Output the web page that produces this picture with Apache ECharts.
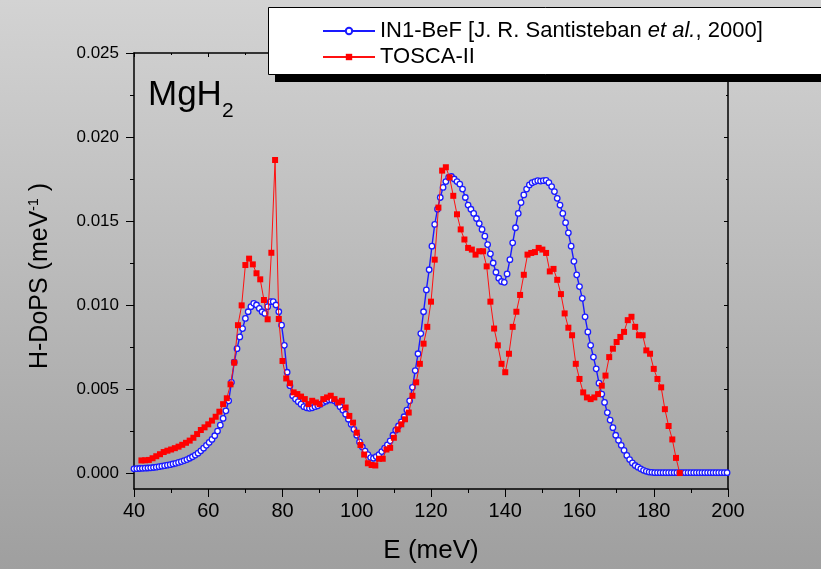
<!DOCTYPE html>
<html>
<head>
<meta charset="utf-8">
<script src="https://cdn.jsdelivr.net/npm/echarts@6/dist/echarts.min.js"></script>
<style>
  html, body { margin: 0; padding: 0; }
  #chart { width: 821px; height: 569px; }
</style>
</head>
<body>
<div id="chart"></div>
<script>
// IN1-BeF spectrum (energy in meV, H-DoPS in 1/meV)
const blueE = [
  40, 40.75, 41.5, 42.25, 43, 43.75, 44.5, 45.25, 46, 46.75, 47.5, 48.25,
  49, 49.75, 50.5, 51.25, 52, 52.75, 53.5, 54.25, 55, 55.75, 56.5, 57.25,
  58, 58.75, 59.5, 60.25, 61, 61.75, 62.5, 63.25, 64, 64.75, 65.5, 66.25,
  67, 67.75, 68.5, 69.25, 70, 70.75, 71.5, 72.25, 73, 73.75, 74.5, 75.25,
  76, 76.75, 77.5, 78.25, 79, 79.75, 80.5, 81.25, 82, 82.75, 83.5, 84.25,
  85, 85.75, 86.5, 87.25, 88, 88.75, 89.5, 90.25, 91, 91.75, 92.5, 93.25,
  94, 94.75, 95.5, 96.25, 97, 97.75, 98.5, 99.25, 100, 100.75, 101.5, 102.25,
  103, 103.75, 104.5, 105.25, 106, 106.75, 107.5, 108.25, 109, 109.75, 110.5, 111.25,
  112, 112.75, 113.5, 114.25, 115, 115.75, 116.5, 117.25, 118, 118.75, 119.5, 120.25,
  121, 121.75, 122.5, 123.25, 124, 124.75, 125.5, 126.25, 127, 127.75, 128.5, 129.25,
  130, 130.75, 131.5, 132.25, 133, 133.75, 134.5, 135.25, 136, 136.75, 137.5, 138.25,
  139, 139.75, 140.5, 141.25, 142, 142.75, 143.5, 144.25, 145, 145.75, 146.5, 147.25,
  148, 148.75, 149.5, 150.25, 151, 151.75, 152.5, 153.25, 154, 154.75, 155.5, 156.25,
  157, 157.75, 158.5, 159.25, 160, 160.75, 161.5, 162.25, 163, 163.75, 164.5, 165.25,
  166, 166.75, 167.5, 168.25, 169, 169.75, 170.5, 171.25, 172, 172.75, 173.5, 174.25,
  175, 175.75, 176.5, 177.25, 178, 178.75, 179.5, 180.25, 181, 181.75, 182.5, 183.25,
  184, 184.75, 185.5, 186.25, 187, 187.75, 188.5, 189.25, 190, 190.75, 191.5, 192.25,
  193, 193.75, 194.5, 195.25, 196, 196.75, 197.5, 198.25, 199, 199.75
];
const blueV = [
  0.00025, 0.00026, 0.00027, 0.00028, 0.00029, 0.00030, 0.00031, 0.00033, 0.00035, 0.00038, 0.00041, 0.00044,
  0.00047, 0.00050, 0.00054, 0.00058, 0.00063, 0.00068, 0.00074, 0.00080, 0.00088, 0.00097, 0.00107, 0.00118,
  0.00132, 0.00148, 0.00165, 0.00182, 0.00200, 0.00222, 0.00250, 0.00285, 0.00325, 0.00370, 0.00430, 0.00540,
  0.00660, 0.00740, 0.00810, 0.00860, 0.00920, 0.00960, 0.00990, 0.01010, 0.01000, 0.00980, 0.00960, 0.00950,
  0.00990, 0.01020, 0.01020, 0.01000, 0.00960, 0.00880, 0.00760, 0.00600, 0.00520, 0.00460, 0.00440, 0.00425,
  0.00410, 0.00395, 0.00388, 0.00385, 0.00388, 0.00395, 0.00400, 0.00410, 0.00420, 0.00428, 0.00435, 0.00435,
  0.00430, 0.00415, 0.00395, 0.00375, 0.00350, 0.00320, 0.00290, 0.00260, 0.00225, 0.00185, 0.00155, 0.00130,
  0.00110, 0.00092, 0.00088, 0.00098, 0.00110, 0.00128, 0.00148, 0.00168, 0.00192, 0.00225, 0.00255, 0.00280,
  0.00305, 0.00335, 0.00375, 0.00430, 0.00510, 0.00610, 0.00710, 0.00830, 0.00960, 0.01090, 0.01210, 0.01350,
  0.01480, 0.01570, 0.01640, 0.01700, 0.01735, 0.01760, 0.01765, 0.01750, 0.01735, 0.01720, 0.01690, 0.01640,
  0.01595, 0.01570, 0.01545, 0.01515, 0.01485, 0.01450, 0.01410, 0.01360, 0.01305, 0.01250, 0.01195, 0.01160,
  0.01140, 0.01135, 0.01185, 0.01270, 0.01370, 0.01460, 0.01545, 0.01610, 0.01655, 0.01690, 0.01715, 0.01728,
  0.01735, 0.01740, 0.01738, 0.01740, 0.01742, 0.01728, 0.01705, 0.01675, 0.01635, 0.01595, 0.01545, 0.01490,
  0.01430, 0.01350, 0.01260, 0.01180, 0.01110, 0.01040, 0.00930, 0.00840, 0.00760, 0.00690, 0.00620, 0.00535,
  0.00470, 0.00420, 0.00360, 0.00315, 0.00270, 0.00225, 0.00195, 0.00165, 0.00135, 0.00105, 0.00080, 0.00060,
  0.00045, 0.00035, 0.00025, 0.00016, 0.00010, 0.00006, 0.00004, 0.00002, 0.00002, 0.00002, 0.00002, 0.00002,
  0.00002, 0.00002, 0.00002, 0.00002, 0.00002, 0.00002, 0.00002, 0.00002, 0.00002, 0.00002, 0.00002, 0.00002,
  0.00002, 0.00002, 0.00002, 0.00002, 0.00002, 0.00002, 0.00002, 0.00002, 0.00002, 0.00002
];

// TOSCA-II spectrum
const redE = [
  42, 43, 44, 45, 46, 47, 48, 49, 50, 51, 52, 53, 54, 55, 56, 57, 58, 59, 60, 61,
  62, 63, 64, 65, 66, 67, 68, 69, 70, 71, 72, 73, 74, 75, 76, 77, 78, 79, 80, 81,
  82, 83, 84, 85, 86, 87, 88, 89, 90, 91, 92, 93, 94, 95, 96, 97, 98, 99, 100, 101,
  102, 103, 104, 105, 106, 107, 108, 109, 110, 111, 112, 113, 114, 115, 116, 117, 118, 119, 120, 121,
  122, 123, 124, 125, 126, 127, 128, 129, 130, 131, 132, 133, 134, 135, 136, 137, 138, 139, 140, 141,
  142, 143, 144, 145, 146, 147, 148, 149, 150, 151, 152, 153, 154, 155, 156, 157, 158, 159, 160, 161,
  162, 163, 164, 165, 166, 167, 168, 169, 170, 171, 172, 173, 174, 175, 176, 177, 178, 179, 180, 181,
  182, 183, 184, 185, 186, 187
];
const redV = [
  0.00075, 0.00076, 0.00078, 0.00088, 0.00100, 0.00112, 0.00125, 0.00133, 0.00140, 0.00148,
  0.00157, 0.00168, 0.00180, 0.00193, 0.00210, 0.00232, 0.00256, 0.00272, 0.00290, 0.00312,
  0.00335, 0.00365, 0.00410, 0.00445, 0.00528, 0.00657, 0.00880, 0.00998, 0.01238, 0.01276,
  0.01242, 0.01189, 0.01153, 0.01030, 0.00915, 0.01311, 0.01863, 0.00917, 0.00667, 0.00563,
  0.00534, 0.00480, 0.00470, 0.00455, 0.00440, 0.00410, 0.00430, 0.00420, 0.00410, 0.00440,
  0.00450, 0.00460, 0.00440, 0.00420, 0.00430, 0.00390, 0.00340, 0.00300, 0.00240, 0.00167,
  0.00110, 0.00058, 0.00048, 0.00045, 0.00085, 0.00085, 0.00140, 0.00150, 0.00210, 0.00260,
  0.00290, 0.00320, 0.00360, 0.00460, 0.00540, 0.00650, 0.00770, 0.00870, 0.01020, 0.01270,
  0.01580, 0.01800, 0.01820, 0.01760, 0.01650, 0.01540, 0.01450, 0.01390, 0.01340, 0.01330,
  0.01300, 0.01320, 0.01320, 0.01230, 0.01020, 0.00860, 0.00760, 0.00650, 0.00600, 0.00710,
  0.00870, 0.00960, 0.01060, 0.01180, 0.01300, 0.01310, 0.01315, 0.01340, 0.01330, 0.01310,
  0.01200, 0.01215, 0.01150, 0.01065, 0.00950, 0.00865, 0.00820, 0.00650, 0.00560, 0.00480,
  0.00450, 0.00440, 0.00450, 0.00470, 0.00520, 0.00580, 0.00690, 0.00740, 0.00780, 0.00810,
  0.00840, 0.00910, 0.00930, 0.00870, 0.00820, 0.00820, 0.00730, 0.00710, 0.00620, 0.00560,
  0.00510, 0.00380, 0.00280, 0.00200, 0.00090, 0.00000
];

const yMajor = [0, 0.005, 0.010, 0.015, 0.020, 0.025];
const yMinor = [0.0025, 0.0075, 0.0125, 0.0175, 0.0225];
const seriesNames = ['IN1-BeF [J. R. Santisteban et al., 2000]', 'TOSCA-II'];

const FONT = '"Liberation Sans", Arial, sans-serif';
const yMin = -0.00095, yMax = 0.025;

var myChart = echarts.init(document.getElementById('chart'));

function yAx(pos, ticks, len, inside, showLine) {
  return {
    type: 'value', position: pos, min: yMin, max: yMax,
    axisLine: { show: showLine, onZero: false, lineStyle: { color: '#000', width: 1.5 } },
    axisTick: { show: true, inside: inside, length: len, customValues: ticks, lineStyle: { color: '#000', width: 1 } },
    axisLabel: { show: false },
    splitLine: { show: false }
  };
}

var option = {
  animation: false,
  grid: { left: 134, right: 93, top: 53, bottom: 80 },
  graphic: [
    {
      type: 'rect', z: -10, silent: true,
      shape: { x: 0, y: 0, width: 821, height: 569 },
      style: {
        fill: new echarts.graphic.LinearGradient(0, 0, 0, 1, [
          { offset: 0, color: '#d3d3d3' },
          { offset: 1, color: '#9f9f9f' }
        ])
      }
    },
    { type: 'rect', z: 3, shape: { x: 275, y: 14, width: 560, height: 68 }, style: { fill: '#000' } },
    { type: 'rect', z: 3, shape: { x: 268.5, y: 7.5, width: 560, height: 67 }, style: { fill: '#fff', stroke: '#000', lineWidth: 1 } },
    { type: 'text', z: 3, x: 148, y: 78, style: { text: 'MgH', fontSize: 35, fontFamily: FONT, fill: '#000' } },
    { type: 'text', z: 3, x: 222, y: 101, style: { text: '2', fontSize: 21, fontFamily: FONT, fill: '#000' } },
    { type: 'text', z: 3, x: 431, y: 551, style: { text: 'E (meV)', fontSize: 26, fontFamily: FONT, fill: '#000', align: 'center', verticalAlign: 'middle' } },
    {
      type: 'text', z: 3, x: 40, y: 276, rotation: Math.PI / 2,
      style: {
        text: '{a|H-DoPS (meV}{s|-1}{a| )}', align: 'center', verticalAlign: 'middle',
        rich: {
          a: { fontSize: 25, fontFamily: FONT, fill: '#000', verticalAlign: 'bottom' },
          s: { fontSize: 14, fontFamily: FONT, fill: '#000', verticalAlign: 'top' }
        }
      }
    }
  ],
  legend: {
    data: seriesNames,
    orient: 'vertical',
    left: 322, top: 20, padding: 0,
    itemWidth: 52, itemHeight: 8, itemGap: 4,
    z: 5,
    formatter: function (name) {
      if (name === seriesNames[0]) return '{n|IN1-BeF [J. R. Santisteban }{i|et al.}{n|, 2000]}';
      return '{n|' + name + '}';
    },
    textStyle: {
      rich: {
        n: { fontSize: 22, fontFamily: FONT, color: '#000', lineHeight: 23 },
        i: { fontSize: 22, fontFamily: FONT, color: '#000', fontStyle: 'italic', lineHeight: 23 }
      }
    }
  },
  xAxis: [
    {
      type: 'value', position: 'bottom', min: 40, max: 200, interval: 20,
      axisLine: { onZero: false, lineStyle: { color: '#000', width: 1.5 } },
      axisTick: { length: 8, lineStyle: { color: '#000', width: 1 } },
      minorTick: { show: true, splitNumber: 2, length: 4, lineStyle: { color: '#000', width: 1 } },
      axisLabel: { fontSize: 20, fontFamily: FONT, color: '#000', margin: 12 },
      splitLine: { show: false }
    },
    {
      type: 'value', position: 'top', min: 40, max: 200, interval: 20,
      axisLine: { onZero: false, lineStyle: { color: '#000', width: 1.5 } },
      axisTick: { inside: true, length: 4, lineStyle: { color: '#000', width: 1 } },
      minorTick: { show: true, splitNumber: 2, length: 2, lineStyle: { color: '#000', width: 1 } },
      axisLabel: { show: false },
      splitLine: { show: false }
    }
  ],
  yAxis: [
    {
      type: 'value', position: 'left', min: yMin, max: yMax,
      axisLine: { show: true, onZero: false, lineStyle: { color: '#000', width: 1.5 } },
      axisTick: { inside: false, length: 8, customValues: yMajor, lineStyle: { color: '#000', width: 1 } },
      axisLabel: {
        customValues: yMajor, fontSize: 17, fontFamily: FONT, color: '#000', margin: 15,
        formatter: function (v) { return v.toFixed(3); }
      },
      splitLine: { show: false }
    },
    yAx('left', yMinor, 4, false, false),
    yAx('right', yMajor, 4, true, true),
    yAx('right', yMinor, 2, true, false)
  ],
  series: [
    {
      name: seriesNames[0], type: 'line', xAxisIndex: 0, yAxisIndex: 0,
      data: blueE.map(function (e, i) { return [e, blueV[i]]; }),
      symbol: 'circle', symbolSize: 5.5, showAllSymbol: true,
      lineStyle: { color: '#1a1aff', width: 1.4 },
      itemStyle: { color: '#ffffff', borderColor: '#1a1aff', borderWidth: 1.3 },
      z: 2
    },
    {
      name: seriesNames[1], type: 'line', xAxisIndex: 0, yAxisIndex: 0,
      data: redE.map(function (e, i) { return [e, redV[i]]; }),
      symbol: 'rect', symbolSize: 6, showAllSymbol: true,
      lineStyle: { color: '#ff1010', width: 1 },
      itemStyle: { color: '#ff0000' },
      z: 3
    }
  ]
};

myChart.setOption(option);
</script>
</body>
</html>
